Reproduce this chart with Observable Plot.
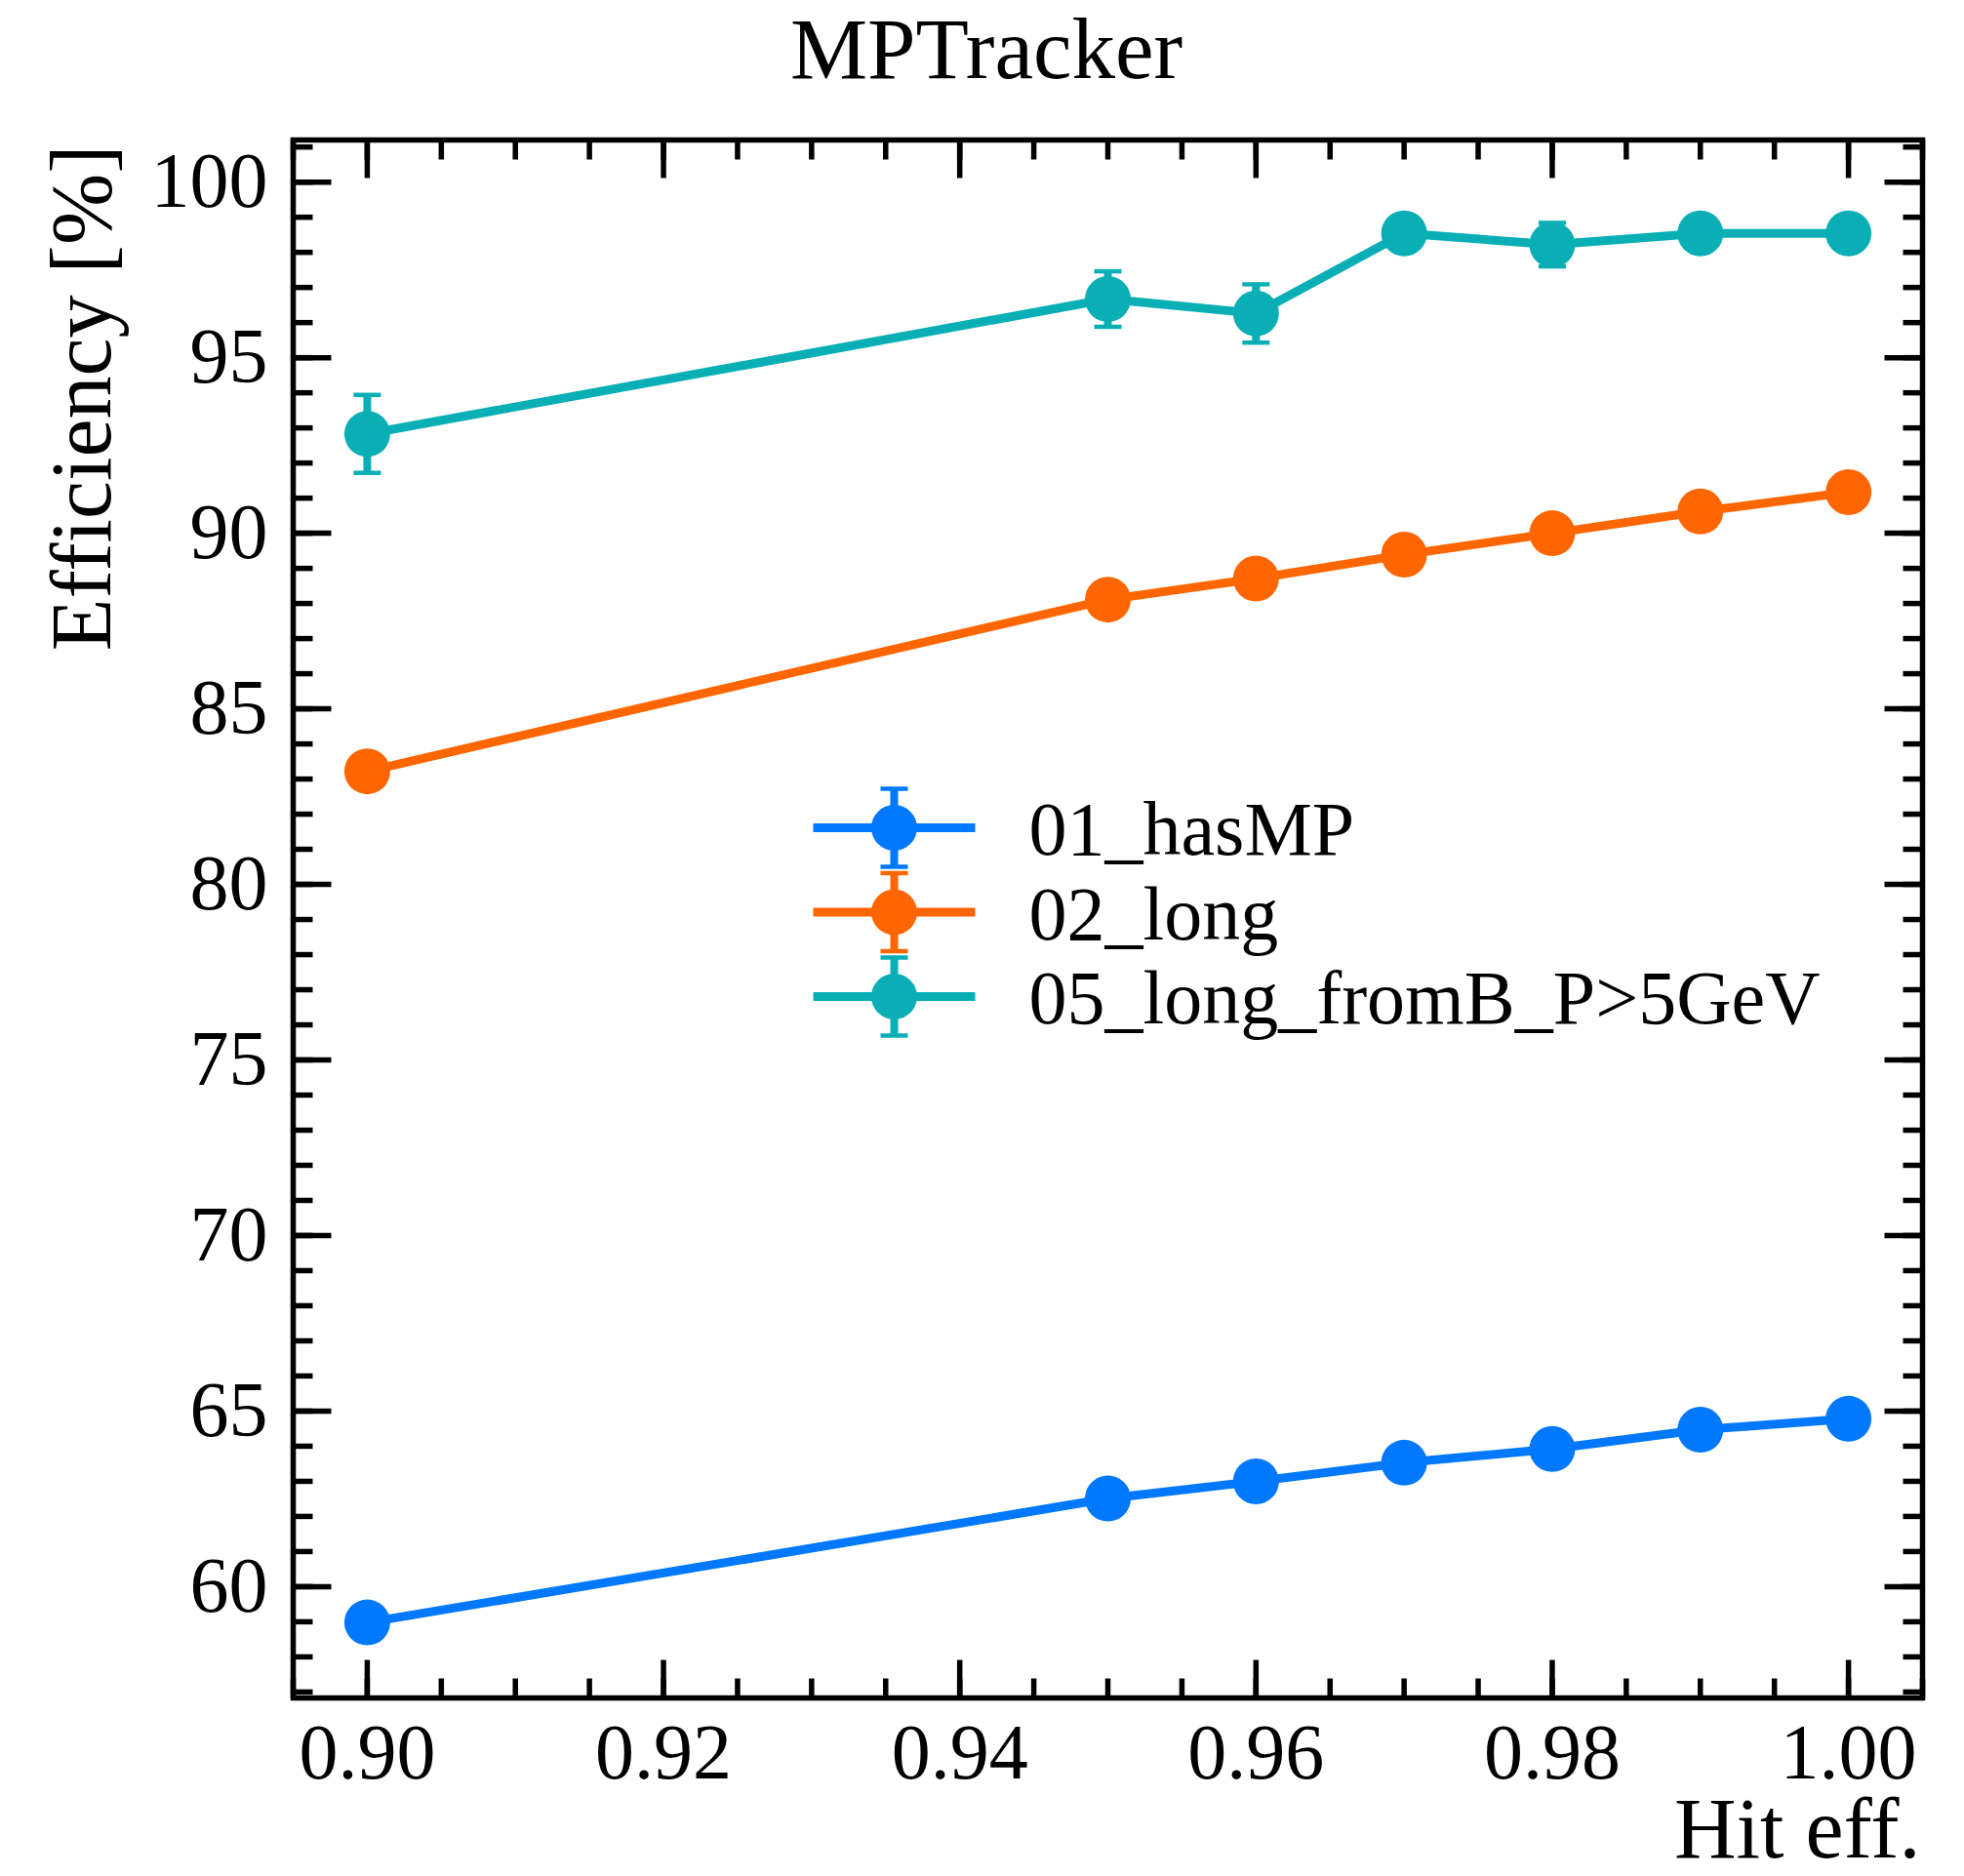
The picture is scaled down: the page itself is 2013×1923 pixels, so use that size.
<!DOCTYPE html>
<html>
<head>
<meta charset="utf-8">
<script src="https://cdn.jsdelivr.net/npm/d3@7"></script>
<script src="https://cdn.jsdelivr.net/npm/@observablehq/plot@0.6"></script>
<style>
  body { margin: 0; background: #fff; }
  #title {
    width: 2013px; height: 100px; box-sizing: border-box; padding-left: 9px;
    text-align: center; font-family: "Liberation Serif", "Times New Roman", serif;
    font-size: 89px; line-height: 100px; color: #000;
  }
  #chart svg { display: block; }
</style>
</head>
<body>
<div id="title">MPTracker</div>
<div id="chart"></div>
<script>
// ---- data ----
const hitEff = [0.90, 0.95, 0.96, 0.97, 0.98, 0.99, 1.00];
const seriesNames = ["01_hasMP", "02_long", "05_long_fromB_P>5GeV"];
const seriesColors = ["#0078FF", "#FF6600", "#0AAFB6"];
const effHasMP = [58.98, 62.51, 63.00, 63.53, 63.92, 64.47, 64.78];
const errHasMP = [0.2, 0.2, 0.2, 0.2, 0.2, 0.2, 0.2];
const effLong = [83.22, 88.11, 88.71, 89.39, 90.00, 90.62, 91.17];
const errLong = [0.15, 0.15, 0.15, 0.15, 0.15, 0.15, 0.15];
const effFromB = [92.83, 96.67, 96.26, 98.54, 98.22, 98.54, 98.54];
const errFromB = [1.11, 0.79, 0.83, 0.4, 0.62, 0.4, 0.4];
const xMajor = [0.90, 0.92, 0.94, 0.96, 0.98, 1.00];
const xMinor = [0.895, 0.900, 0.905, 0.910, 0.915, 0.920, 0.925, 0.930, 0.935, 0.940, 0.945,
                0.950, 0.955, 0.960, 0.965, 0.970, 0.975, 0.980, 0.985, 0.990, 0.995, 1.000, 1.005];
const yMajor = [60, 65, 70, 75, 80, 85, 90, 95, 100];
const yMinor = [57, 58, 59, 60, 61, 62, 63, 64, 65, 66, 67, 68, 69, 70, 71, 72, 73, 74, 75, 76, 77, 78, 79,
                80, 81, 82, 83, 84, 85, 86, 87, 88, 89, 90, 91, 92, 93, 94, 95, 96, 97, 98, 99, 100, 101];
const xLabel = "Hit eff.";
const yLabel = "Efficiency [%]";

const seriesEff = [effHasMP, effLong, effFromB];
const seriesErr = [errHasMP, errLong, errFromB];
const rows = seriesNames.flatMap((s, i) =>
  hitEff.map((x, j) => ({series: s, x, y: seriesEff[i][j], err: seriesErr[i][j]})));

// ---- style ----
const tickShape = {draw(context, l) { context.moveTo(0, 0); context.lineTo(0, -l); }};
const TW = 5.5, MAJ = 39, MIN = 20;
const LW = 9, EW = 8, CW = 4.5, CAP = 28, R = 23.5;

function ticks(values, ch, anchor, rotate, length) {
  const o = {frameAnchor: anchor, rotate, length, anchor: "start", shape: tickShape,
             stroke: "black", strokeWidth: TW, strokeLinecap: "butt"};
  o[ch] = d => d;
  return Plot.vector(values, o);
}

const legendMarks = seriesNames.flatMap((name, i) => {
  const row = 705 + i * 86.5;
  const c = seriesColors[i];
  const base = {frameAnchor: "top-left", shape: tickShape, strokeLinecap: "butt", stroke: c};
  return [
    Plot.vector([name], {...base, dx: 533, dy: row, rotate: 90, anchor: "start", length: 166, strokeWidth: LW}),
    Plot.vector([name], {...base, dx: 616, dy: row, rotate: 0, anchor: "middle", length: 80, strokeWidth: EW}),
    Plot.vector([name], {...base, dx: 616, dy: row - 40, rotate: 90, anchor: "middle", length: CAP, strokeWidth: CW}),
    Plot.vector([name], {...base, dx: 616, dy: row + 40, rotate: 90, anchor: "middle", length: CAP, strokeWidth: CW}),
    Plot.dot([name], {frameAnchor: "top-left", dx: 616, dy: row, r: R, fill: c, stroke: "none"}),
    Plot.text([name], {frameAnchor: "top-left", dx: 754, dy: row + 3, text: d => d, textAnchor: "start",
                       lineAnchor: "middle", fontSize: 78, fill: "black"})
  ];
});

const chart = Plot.plot({
  width: 2013,
  height: 1823,
  marginLeft: 300,
  marginRight: 43,
  marginTop: 43,
  marginBottom: 183,
  style: {fontFamily: '"Liberation Serif", "Times New Roman", serif', color: "black", background: "white"},
  x: {domain: [0.895, 1.005]},
  y: {domain: [56.83, 101.2]},
  color: {domain: seriesNames, range: seriesColors},
  marks: [
    Plot.line(rows, {x: "x", y: "y", z: "series", stroke: "series", strokeWidth: LW}),
    Plot.ruleX(rows, {x: "x", y1: d => d.y - d.err, y2: d => d.y + d.err, stroke: "series", strokeWidth: EW}),
    Plot.vector(rows, {x: "x", y: d => d.y + d.err, rotate: 90, anchor: "middle", length: CAP, shape: tickShape,
                       stroke: "series", strokeWidth: CW, strokeLinecap: "butt"}),
    Plot.vector(rows, {x: "x", y: d => d.y - d.err, rotate: 90, anchor: "middle", length: CAP, shape: tickShape,
                       stroke: "series", strokeWidth: CW, strokeLinecap: "butt"}),
    Plot.dot(rows, {x: "x", y: "y", r: R, fill: "series", stroke: "none"}),
    ...legendMarks,
    Plot.axisX({ticks: xMajor, tickSize: 0, tickPadding: 26, tickFormat: d3.format(".2f"), fontSize: 80, label: null, anchor: "bottom"}),
    Plot.axisY({ticks: yMajor, tickSize: 0, tickPadding: 26, tickFormat: d3.format("d"), fontSize: 80, label: null, anchor: "left"}),
    ticks(xMinor, "x", "bottom", 0, MIN),
    ticks(xMajor, "x", "bottom", 0, MAJ),
    ticks(xMinor, "x", "top", 180, MIN),
    ticks(xMajor, "x", "top", 180, MAJ),
    ticks(yMinor, "y", "left", 90, MIN),
    ticks(yMajor, "y", "left", 90, MAJ),
    ticks(yMinor, "y", "right", -90, MIN),
    ticks(yMajor, "y", "right", -90, MAJ),
    Plot.frame({stroke: "black", strokeWidth: TW}),
    Plot.text([yLabel], {frameAnchor: "top-left", dx: -216, dy: 5, rotate: -90, text: d => d,
                         textAnchor: "end", lineAnchor: "middle", fontSize: 88, fill: "black"}),
    Plot.text([xLabel], {frameAnchor: "bottom-right", dx: -2, dy: 163, text: d => d,
                         textAnchor: "end", lineAnchor: "bottom", fontSize: 88, fill: "black"})
  ]
});
document.getElementById("chart").appendChild(chart);
</script>
</body>
</html>
